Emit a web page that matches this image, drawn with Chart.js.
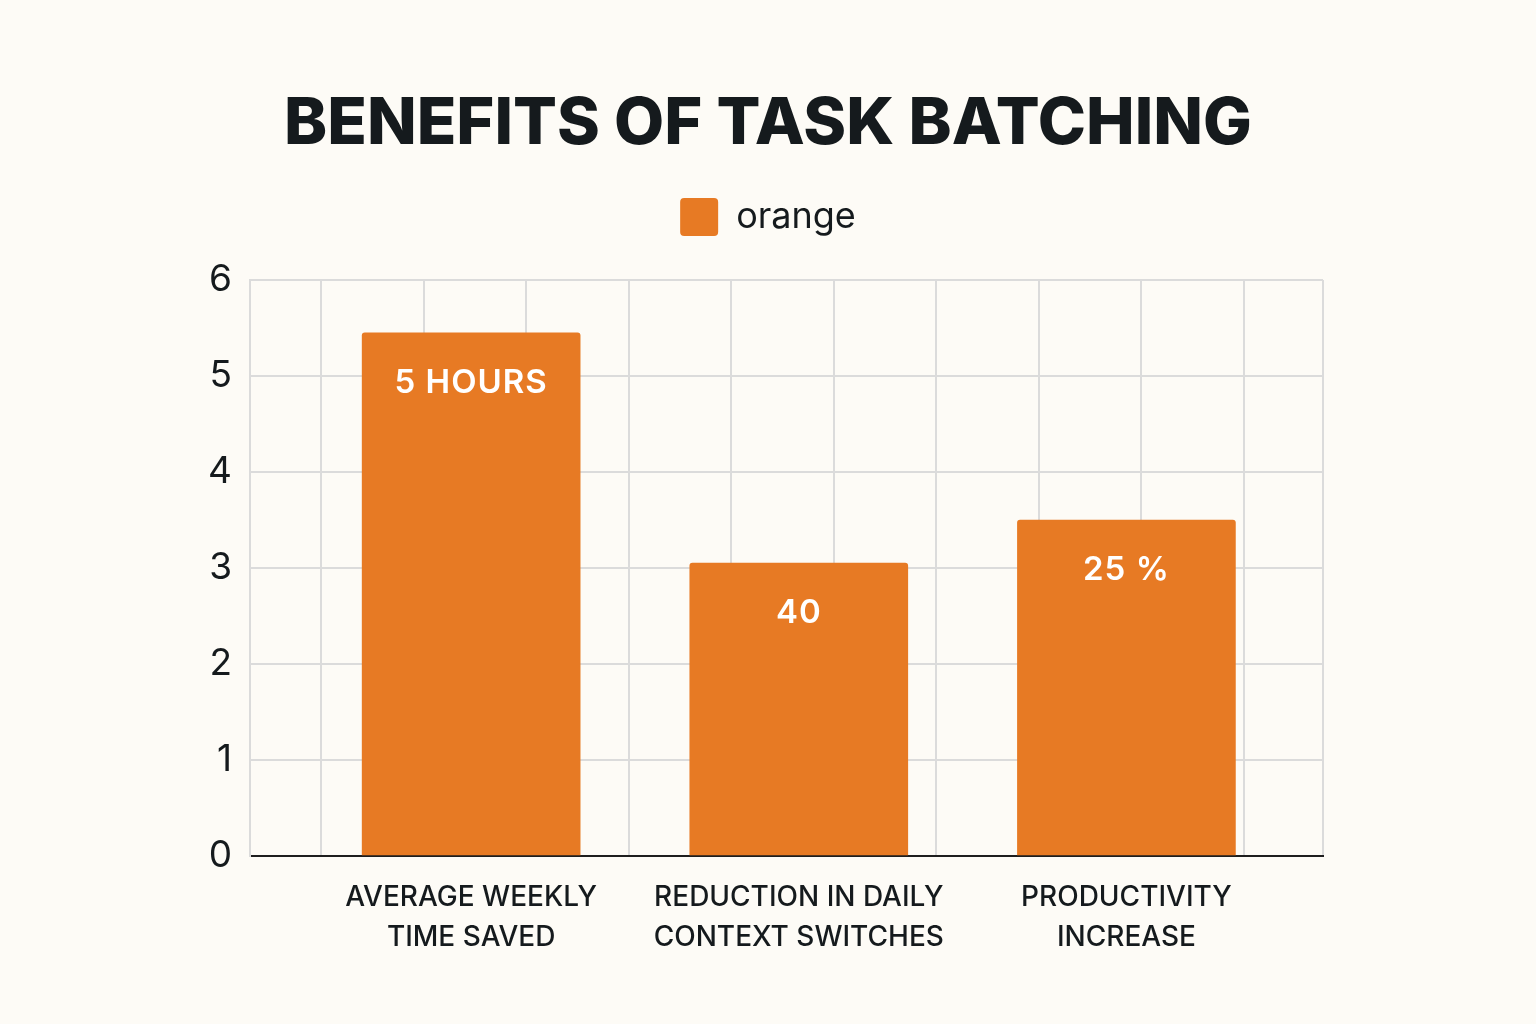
<!DOCTYPE html>
<html>
<head>
<meta charset="utf-8">
<title>Benefits of Task Batching</title>
<script src="https://cdn.jsdelivr.net/npm/chart.js@4.4.1/dist/chart.umd.min.js"></script>
<style>
  html, body { margin: 0; padding: 0; background: #fdfbf6; }
  #wrap { width: 1536px; height: 1024px; }
</style>
</head>
<body>
<div id="wrap"><canvas id="batchChart" width="1536" height="1024"></canvas></div>
<script>
// data
const categories = [
  ['AVERAGE WEEKLY', 'TIME SAVED'],
  ['REDUCTION IN DAILY', 'CONTEXT SWITCHES'],
  ['PRODUCTIVITY', 'INCREASE']
]
const barValues = [5.45, 3.05, 3.5]
const barLabels = ['5 HOURS', '40', '25 %']
const yTicks = [0, 1, 2, 3, 4, 5, 6]
const seriesName = 'orange'

const ORANGE = '#e77a24'
const INK = '#151a1d'
const GRID = '#dbdbdb'

// white text inside the top of every bar
const barTextPlugin = {
  id: 'barText',
  afterDatasetsDraw(chart) {
    const ctx = chart.ctx
    const meta = chart.getDatasetMeta(0)
    ctx.save()
    ctx.fillStyle = '#ffffff'
    ctx.font = '600 33px Inter'
    ctx.letterSpacing = '1px'
    ctx.textAlign = 'center'
    ctx.textBaseline = 'middle'
    meta.data.forEach((bar, i) => {
      ctx.fillText(barLabels[i], bar.x, bar.y + 50)
    })
    ctx.restore()
  }
}

// a bit more room between legend and plot
const legendGap = {
  id: 'legendGap',
  beforeInit(chart) {
    const fit = chart.legend.fit
    chart.legend.fit = function () {
      fit.bind(chart.legend)()
      this.height += 34
    }
  }
}

const dataBar = {
  datasets: [{
    label: seriesName,
    data: barValues.map((v, i) => ({ x: i, y: v })),
    backgroundColor: ORANGE,
    borderColor: ORANGE,
    borderWidth: 0,
    borderRadius: 3,
    borderSkipped: 'bottom',
    barThickness: 218
  }]
}

const configBar = {
  type: 'bar',
  data: dataBar,
  options: {
    responsive: false,
    animation: false,
    devicePixelRatio: 1,
    layout: {
      padding: { left: 0, right: 0, top: 0, bottom: 44 }
    },
    plugins: {
      title: {
        display: true,
        text: 'BENEFITS OF TASK BATCHING',
        color: INK,
        font: { family: 'Inter', size: 65, weight: '800', lineHeight: 1 },
        padding: { top: 92, bottom: 31 }
      },
      legend: {
        display: true,
        labels: {
          color: INK,
          font: { family: 'Inter', size: 36 },
          boxWidth: 38,
          boxHeight: 38,
          useBorderRadius: true,
          borderRadius: 4,
          padding: 10
        }
      },
      tooltip: { enabled: false }
    },
    scales: {
      x: {
        type: 'linear',
        position: 'bottom',
        offset: false,
        min: -0.675,
        max: 2.6,
        grid: { display: false, offset: false, drawTicks: false },
        border: { display: true, color: '#1e1e1e', width: 2 },
        ticks: {
          stepSize: 1,
          autoSkip: false,
          maxRotation: 0,
          padding: 22,
          color: INK,
          font: { family: 'Inter', size: 28, weight: '500', lineHeight: 1.43 },
          callback: (v) => (Number.isInteger(v) && categories[v]) ? categories[v] : ''
        }
      },
      xGrid: {
        type: 'linear',
        axis: 'x',
        position: 'top',
        offset: false,
        min: -0.693,
        max: 9.775,
        grid: { display: true, offset: false, color: GRID, lineWidth: 2, drawTicks: false, tickLength: 0 },
        border: { display: false },
        ticks: { display: false, stepSize: 1 }
      },
      y: {
        min: yTicks[0],
        max: yTicks[yTicks.length - 1],
        afterFit: (scale) => { scale.width = 250 },
        afterBuildTicks: (scale) => { scale.ticks = yTicks.map(v => ({ value: v })) },
        grid: { color: GRID, lineWidth: 2, drawTicks: false },
        border: { display: true, color: GRID, width: 2 },
        ticks: {
          color: INK,
          padding: 18,
          font: { family: 'Inter', size: 37 }
        }
      },
      // empty axis that only keeps the right margin free
      yRight: {
        type: 'linear',
        axis: 'y',
        position: 'right',
        afterFit: (scale) => { scale.width = 213 },
        grid: { display: false, drawTicks: false },
        border: { display: false },
        ticks: { display: false }
      }
    }
  },
  plugins: [barTextPlugin, legendGap]
}

const batchChart = new Chart(
  document.getElementById('batchChart'),
  configBar
)
</script>
</body>
</html>
